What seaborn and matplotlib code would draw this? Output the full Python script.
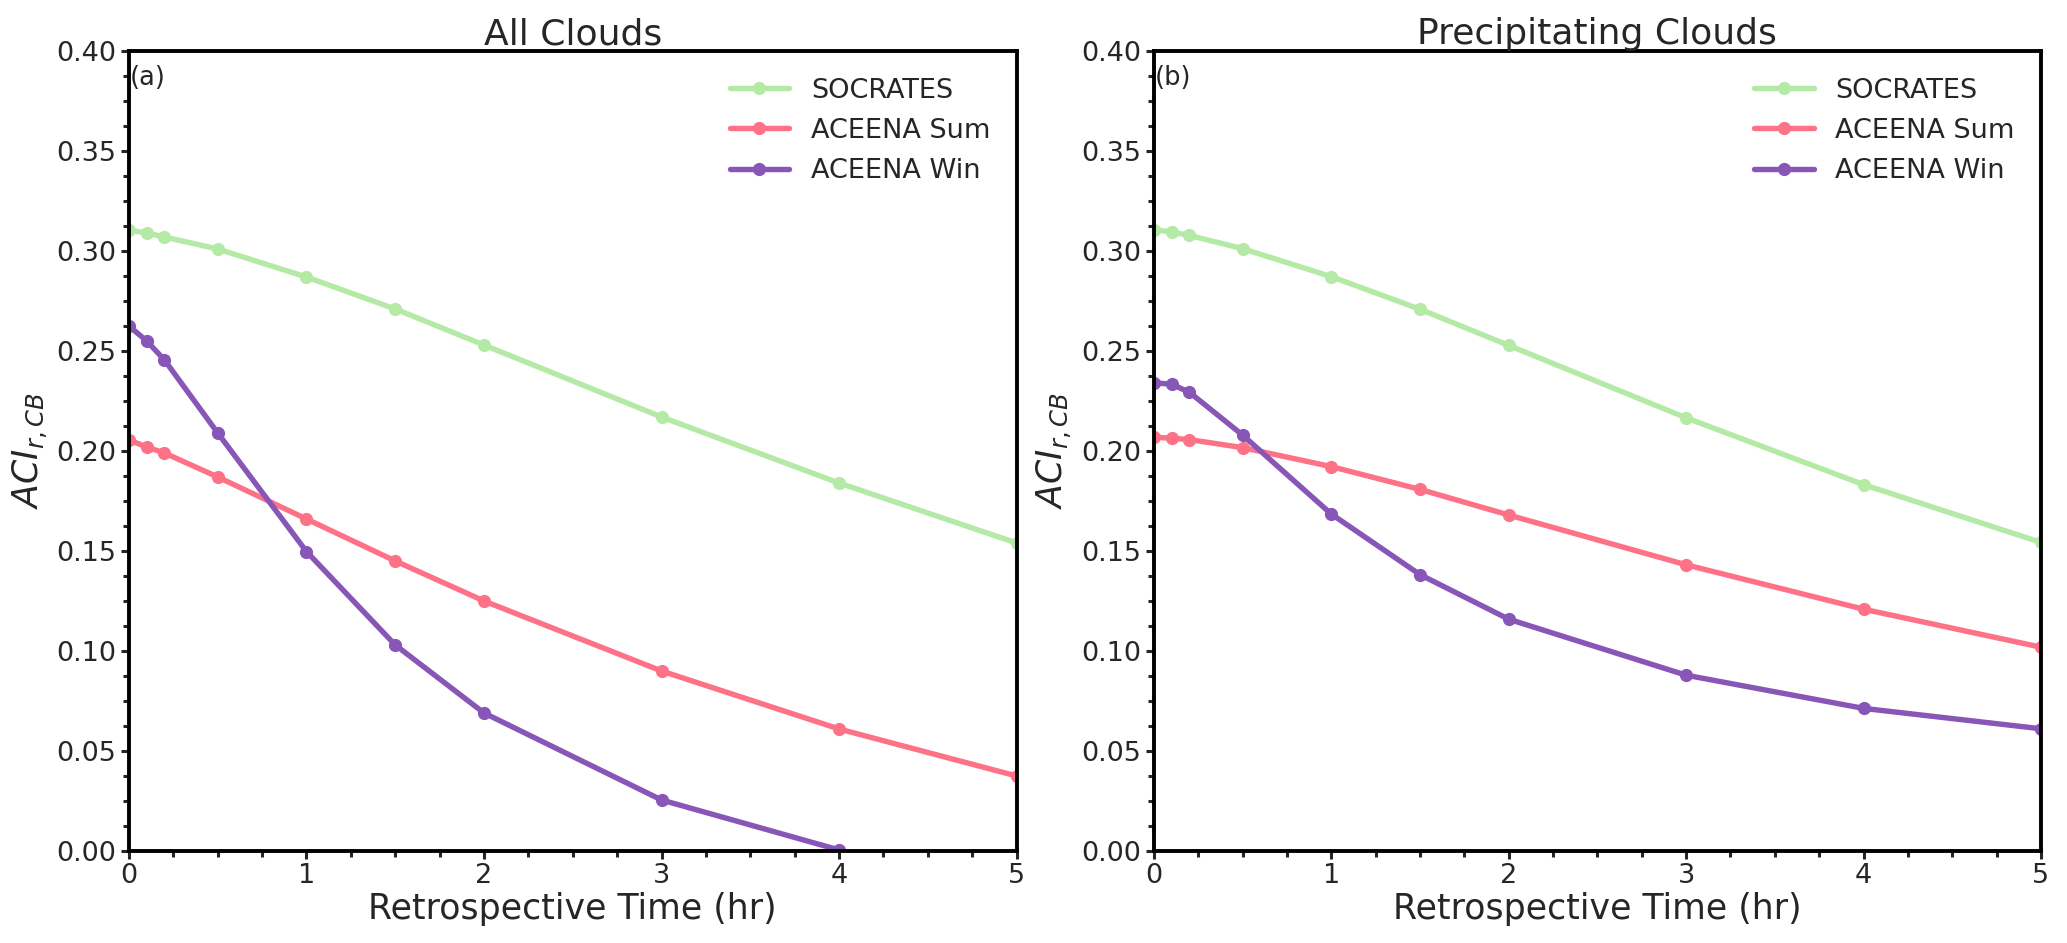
import matplotlib
matplotlib.use("Agg")
import matplotlib.pyplot as plt
import seaborn as sns
import numpy as np
from matplotlib.ticker import MultipleLocator, FormatStrFormatter

# retrospective time (hr)
hours = [0, 0.1, 0.2, 0.5, 1, 1.5, 2, 3, 4, 5]

# panel (a) all clouds
all_socrates = [0.3105, 0.309, 0.307, 0.301, 0.287, 0.271, 0.253, 0.217, 0.184, 0.154]
all_sum = [0.2055, 0.202, 0.199, 0.187, 0.166, 0.145, 0.125, 0.090, 0.061, 0.0375]
all_win = [0.2625, 0.255, 0.2455, 0.209, 0.1497, 0.103, 0.069, 0.0255, 0.0005, np.nan]

# panel (b) precipitating clouds
pr_socrates = [0.3107, 0.3095, 0.3078, 0.3012, 0.2872, 0.2709, 0.2528, 0.2166, 0.1832, 0.1543]
pr_sum = [0.2069, 0.2064, 0.2057, 0.2017, 0.1922, 0.1808, 0.168, 0.1431, 0.1209, 0.1019]
pr_win = [0.2341, 0.2334, 0.2294, 0.208, 0.1685, 0.1382, 0.1159, 0.0879, 0.0713, 0.0611]

labels = ["SOCRATES", "ACEENA Sum", "ACEENA Win"]
colors = ["#b5e9a6", "#fd7287", "#8856b7"]
titles = ["All Clouds", "Precipitating Clouds"]
tags = ["(a)", "(b)"]

sns.set_style("white")
plt.rcParams["font.family"] = ["DejaVu Sans"]
plt.rcParams["mathtext.fontset"] = "dejavusans"

fig = plt.figure(figsize=(20.67, 9.43), dpi=100)
ax1 = fig.add_axes([0.0624, 0.0976, 0.4294, 0.8483])
ax2 = fig.add_axes([0.5582, 0.0976, 0.4292, 0.8483])

panels = [
    (ax1, [all_socrates, all_sum, all_win]),
    (ax2, [pr_socrates, pr_sum, pr_win]),
]

for i, (ax, series) in enumerate(panels):
    for vals, lab, col in zip(series, labels, colors):
        sns.lineplot(x=hours, y=vals, ax=ax, color=col, label=lab,
                     marker="o", markersize=9.5, markeredgewidth=0,
                     linewidth=3.9)
    ax.set_xlim(0, 5)
    ax.set_ylim(0, 0.40)
    ax.xaxis.set_major_locator(MultipleLocator(1))
    ax.xaxis.set_minor_locator(MultipleLocator(0.25))
    ax.yaxis.set_major_locator(MultipleLocator(0.05))
    ax.yaxis.set_minor_locator(MultipleLocator(0.0125))
    ax.yaxis.set_major_formatter(FormatStrFormatter("%.2f"))
    ax.tick_params(axis="both", which="major", direction="out", length=5.5,
                   width=2.2, labelsize=19.5, pad=3.5, bottom=True, left=True)
    ax.tick_params(axis="both", which="minor", direction="out", length=4.3,
                   width=2.2, bottom=True, left=True)
    for sp in ax.spines.values():
        sp.set_linewidth(2.8)
        sp.set_color("black")
    ax.set_title(titles[i], fontsize=26, pad=5)
    ax.set_xlabel("Retrospective Time (hr)", fontsize=25, labelpad=2)
    ax.set_ylabel(r"$ACI_{r,CB}$", fontsize=25, labelpad=5)
    ax.text(0.001, 0.982, tags[i], transform=ax.transAxes, fontsize=18.5,
            ha="left", va="top")
    ax.legend(loc="upper right", bbox_to_anchor=(0.9825, 0.98),
              borderaxespad=0, frameon=False, fontsize=19.5,
              handlelength=2.2, handletextpad=0.8, labelspacing=0.52)

fig.savefig("out.png", dpi=100)
